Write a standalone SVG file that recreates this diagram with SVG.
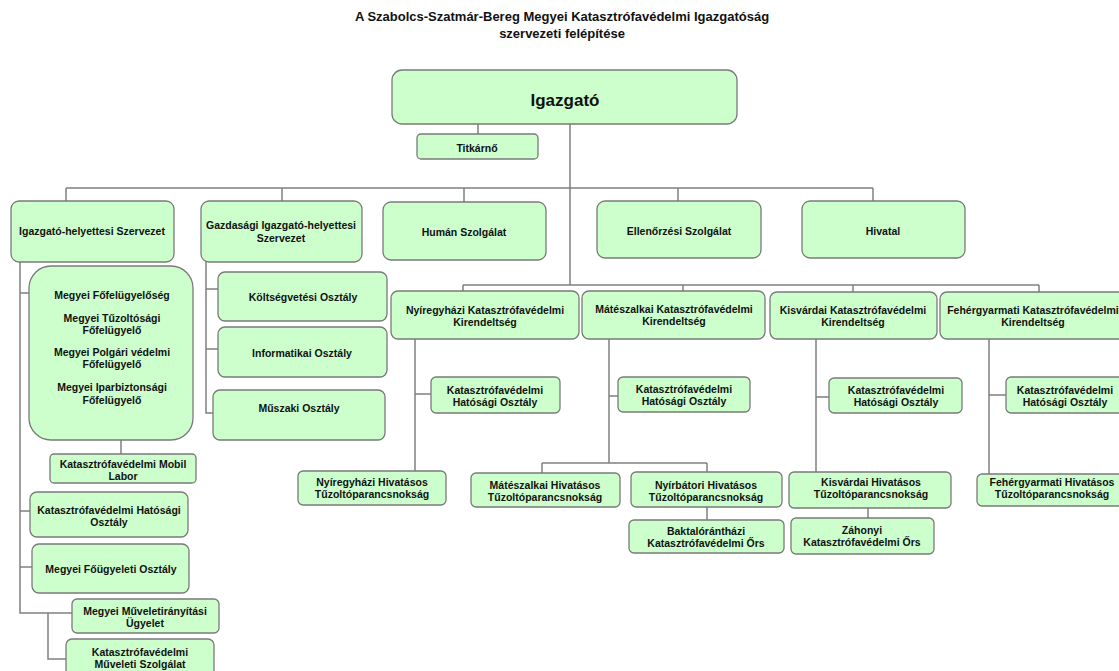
<svg xmlns="http://www.w3.org/2000/svg" width="1119" height="671" viewBox="0 0 1119 671">
<style>
.b{fill:#ccffcc;stroke:#7a7a7a;stroke-width:1.3}
.t{font-family:"Liberation Sans",Arial,sans-serif;font-weight:bold;font-size:10.5px;fill:#111;text-anchor:middle}
.c{stroke:#808080;stroke-width:1.5;fill:none}
</style>
<rect width="1119" height="671" fill="#fff"/>
<g id="title">
<text class="t" style="font-size:13px" x="562" y="21">A Szabolcs-Szatmár-Bereg Megyei Katasztrófavédelmi Igazgatóság</text>
<text class="t" style="font-size:13px" x="562" y="38">szervezeti felépítése</text>
</g>
<g id="connectors">
<path class="c" d="M478 124V134M570 124V285"/>
<path class="c" d="M66 188H873M66 188V201M282 188V201M464 188V202M678 188V201M873 188V201"/>
<path class="c" d="M463 285H1039M463 285V291M683 285V291M853 285V292M1039 285V292"/>
<path class="c" d="M20 262V613H72M20 293H29M20 511H30M20 567H32M48 613V659H66M121 440V454"/>
<path class="c" d="M206 262V413H213M206 289H218M206 349H218"/>
<path class="c" d="M415 339V471M415 394H431"/>
<path class="c" d="M609 339V463M609 396H618M542 463H707M542 463V473M707 463V472M707 507V520"/>
<path class="c" d="M816 339V472M816 397H829M868 508V518"/>
<path class="c" d="M989 339V474M989 395H1006"/>
</g>
<g id="igazgato"><rect class="b" x="392" y="70" width="345" height="54" rx="10"/><text class="t" style="font-size:17px" x="565" y="106">Igazgató</text></g>
<g id="titkarno"><rect class="b" x="417" y="134" width="121" height="25" rx="4"/><text class="t" x="477" y="152">Titkárnő</text></g>
<g id="ighelyettes"><rect class="b" x="11" y="201" width="163" height="61" rx="8"/><text class="t" x="92" y="235">Igazgató-helyettesi Szervezet</text></g>
<g id="gazdasagi"><rect class="b" x="201" y="201" width="161" height="61" rx="8"/><text class="t" x="281" y="229">Gazdasági Igazgató-helyettesi<tspan x="281" dy="12.5">Szervezet</tspan></text></g>
<g id="human"><rect class="b" x="383" y="202" width="163" height="58" rx="8"/><text class="t" x="464" y="236">Humán Szolgálat</text></g>
<g id="ellenorzesi"><rect class="b" x="597" y="201" width="164" height="57" rx="8"/><text class="t" x="679" y="235">Ellenőrzési Szolgálat</text></g>
<g id="hivatal"><rect class="b" x="802" y="201" width="163" height="57" rx="8"/><text class="t" x="883" y="235">Hivatal</text></g>
<g id="fofelugyeloseg"><rect class="b" x="29" y="266" width="164" height="174" rx="22"/><text class="t" x="112" y="299">Megyei Főfelügyelőség<tspan x="112" y="322">Megyei Tűzoltósági</tspan><tspan x="112" y="334">Főfelügyelő</tspan><tspan x="112" y="356">Megyei  Polgári védelmi</tspan><tspan x="112" y="368">Főfelügyelő</tspan><tspan x="112" y="391">Megyei  Iparbiztonsági</tspan><tspan x="112" y="404">Főfelügyelő</tspan></text></g>
<g id="mobillabor"><rect class="b" x="50" y="454" width="146" height="29" rx="4"/><text class="t" x="123" y="468">Katasztrófavédelmi Mobil<tspan x="123" dy="12">Labor</tspan></text></g>
<g id="kho-megyei"><rect class="b" x="30" y="492" width="158" height="45" rx="7"/><text class="t" x="109" y="514">Katasztrófavédelmi Hatósági<tspan x="109" dy="12">Osztály</tspan></text></g>
<g id="fougyeleti"><rect class="b" x="32" y="544" width="157" height="49" rx="7"/><text class="t" x="111" y="573">Megyei Főügyeleti Osztály</text></g>
<g id="muveletiranyitasi"><rect class="b" x="72" y="599" width="147" height="34" rx="5"/><text class="t" x="145" y="615">Megyei Műveletirányítási<tspan x="145" dy="12">Ügyelet</tspan></text></g>
<g id="muveleti-szolgalat"><rect class="b" x="66" y="639" width="148" height="45" rx="6"/><text class="t" x="140" y="656">Katasztrófavédelmi<tspan x="140" dy="12">Műveleti Szolgálat</tspan></text></g>
<g id="koltsegvetesi"><rect class="b" x="218" y="272" width="169" height="49" rx="7"/><text class="t" x="303" y="301">Költségvetési Osztály</text></g>
<g id="informatikai"><rect class="b" x="218" y="327" width="169" height="50" rx="7"/><text class="t" x="302" y="357">Informatikai Osztály</text></g>
<g id="muszaki"><rect class="b" x="213" y="390" width="172" height="50" rx="7"/><text class="t" x="299" y="412">Műszaki Osztály</text></g>
<g id="nyiregyhazi-k"><rect class="b" x="391" y="291" width="188" height="48" rx="7"/><text class="t" x="485" y="314">Nyíregyházi Katasztrófavédelmi<tspan x="485" dy="11.5">Kirendeltség</tspan></text></g>
<g id="nyiregyhazi-kho"><rect class="b" x="431" y="377" width="129" height="36" rx="5"/><text class="t" x="495" y="394">Katasztrófavédelmi<tspan x="495" dy="12">Hatósági Osztály</tspan></text></g>
<g id="nyiregyhazi-hiv"><rect class="b" x="298" y="471" width="148" height="34" rx="5"/><text class="t" x="372" y="486">Nyíregyházi Hivatásos<tspan x="372" dy="11.5">Tűzoltóparancsnokság</tspan></text></g>
<g id="mateszalkai-k"><rect class="b" x="582" y="291" width="183" height="48" rx="7"/><text class="t" x="674" y="313">Mátészalkai Katasztrófavédelmi<tspan x="674" dy="11.5">Kirendeltség</tspan></text></g>
<g id="mateszalkai-kho"><rect class="b" x="618" y="377" width="132" height="35" rx="5"/><text class="t" x="684" y="393">Katasztrófavédelmi<tspan x="684" dy="12">Hatósági Osztály</tspan></text></g>
<g id="mateszalkai-hiv"><rect class="b" x="471" y="473" width="149" height="34" rx="5"/><text class="t" x="545" y="489">Mátészalkai Hivatásos<tspan x="545" dy="11.5">Tűzoltóparancsnokság</tspan></text></g>
<g id="nyirbatori-hiv"><rect class="b" x="631" y="472" width="151" height="35" rx="5"/><text class="t" x="706" y="489">Nyírbátori Hivatásos<tspan x="706" dy="11.5">Tűzoltóparancsnokság</tspan></text></g>
<g id="baktalorantházi"><rect class="b" x="629" y="520" width="155" height="33" rx="5"/><text class="t" x="706" y="535">Baktalórántházi<tspan x="706" dy="11.5">Katasztrófavédelmi Őrs</tspan></text></g>
<g id="kisvardai-k"><rect class="b" x="770" y="292" width="167" height="47" rx="7"/><text class="t" x="853" y="314">Kisvárdai Katasztrófavédelmi<tspan x="853" dy="12">Kirendeltség</tspan></text></g>
<g id="kisvardai-kho"><rect class="b" x="829" y="378" width="133" height="35" rx="5"/><text class="t" x="896" y="394">Katasztrófavédelmi<tspan x="896" dy="11.5">Hatósági Osztály</tspan></text></g>
<g id="kisvardai-hiv"><rect class="b" x="789" y="472" width="162" height="36" rx="5"/><text class="t" x="871" y="486">Kisvárdai Hivatásos<tspan x="871" dy="12">Tűzoltóparancsnokság</tspan></text></g>
<g id="zahonyi"><rect class="b" x="791" y="518" width="143" height="36" rx="5"/><text class="t" x="862" y="534">Záhonyi<tspan x="862" dy="12">Katasztrófavédelmi Őrs</tspan></text></g>
<g id="fehergyarmati-k"><rect class="b" x="940" y="292" width="190" height="47" rx="7"/><text class="t" x="1033" y="314">Fehérgyarmati Katasztrófavédelmi<tspan x="1033" dy="12">Kirendeltség</tspan></text></g>
<g id="fehergyarmati-kho"><rect class="b" x="1006" y="377" width="125" height="36" rx="5"/><text class="t" x="1065" y="394">Katasztrófavédelmi<tspan x="1065" dy="11.5">Hatósági Osztály</tspan></text></g>
<g id="fehergyarmati-hiv"><rect class="b" x="977" y="474" width="150" height="32" rx="5"/><text class="t" x="1052" y="486">Fehérgyarmati Hivatásos<tspan x="1052" dy="12">Tűzoltóparancsnokság</tspan></text></g>
</svg>
